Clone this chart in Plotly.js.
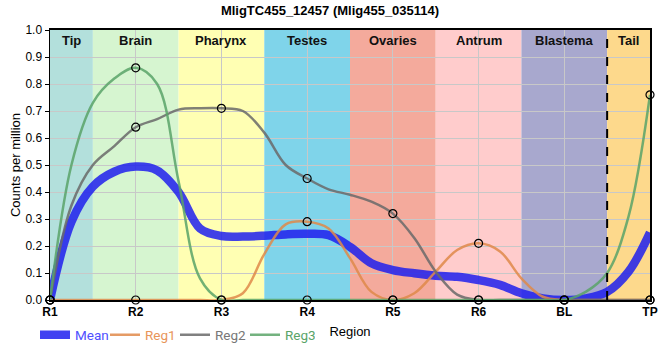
<!DOCTYPE html>
<html>
<head>
<meta charset="utf-8">
<script src="https://cdn.plot.ly/plotly-3.0.1.min.js"></script>
<style>html,body{margin:0;padding:0;background:#fff}#chart{width:660px;height:360px}</style>
</head>
<body>
<div id="chart"></div>
<script>
// Category tick labels and region bands
const regions = ["R1", "R2", "R3", "R4", "R5", "R6", "BL", "TP"];
const bandNames = ["Tip", "Brain", "Pharynx", "Testes", "Ovaries", "Antrum", "Blastema", "Tail"];
const bandColors = ["#b3e0dc", "#d6f5d0", "#ffffb3", "#7fd4ea", "#f4aa9c", "#ffcccc", "#a8a8ce", "#fdd98c"];

// Measured values at each region (markers)
const reg1Pts = [0, 0, 0, 0.29, 0, 0.21, 0, 0];
const reg2Pts = [0, 0.64, 0.71, 0.45, 0.32, 0, 0, 0];
const reg3Pts = [0, 0.86, 0, 0, 0, 0, 0, 0.76];

// Smoothed curves at quarter-region steps
const xCurve = [0,0.25,0.5,0.75,1,1.25,1.5,1.75,2,2.25,2.5,2.75,3,3.25,3.5,3.75,4,4.25,4.5,4.75,5,5.25,5.5,5.75,6,6.25,6.5,6.75,7];
const meanCurve = [0,0.29,0.42,0.475,0.494,0.48,0.40,0.265,0.237,0.235,0.238,0.243,0.245,0.24,0.197,0.136,0.111,0.099,0.09,0.086,0.074,0.056,0.025,0.006,0,0.006,0.03,0.105,0.25];
const reg1Curve = [0,0,0,0,0,0,0,0,0,0.025,0.17,0.28,0.29,0.265,0.155,0.03,0,0.025,0.105,0.185,0.21,0.18,0.08,0.012,0,0,0,0,0];
const reg2Curve = [0,0.35,0.50,0.57,0.64,0.67,0.705,0.71,0.71,0.70,0.62,0.50,0.45,0.41,0.39,0.364,0.32,0.23,0.105,0.02,0,0,0,0,0,0,0,0,0];
const reg3Curve = [0,0.50,0.73,0.82,0.86,0.80,0.44,0.08,0,0,0,0,0,0,0,0,0,0,0,0,0,0,0,0,0,0.03,0.10,0.31,0.76];

const xIdx = regions.map((_, i) => i);

const cMean = "#2020ee", cReg1 = "#e08a4a", cReg2 = "#6a6a6a", cReg3 = "#5aa469";

function lineTrace(y, name, color, width, textColor) {
  return {
    x: xCurve, y: y, type: "scatter", mode: "lines",
    name: "<span style='color:" + textColor + "'>" + name + "</span>",
    line: {color: color, width: width, shape: "spline"},
    opacity: 0.85, hoverinfo: "skip"
  };
}
function markerTrace(y) {
  return {
    x: xIdx, y: y, type: "scatter", mode: "markers", showlegend: false,
    marker: {symbol: "circle-open", size: 8, color: "#000", line: {width: 1.2, color: "#000"}},
    hoverinfo: "skip", cliponaxis: false
  };
}

const data = [
  lineTrace(meanCurve, "Mean", cMean, 8.5, "#5050ff"),
  lineTrace(reg1Curve, "Reg1", cReg1, 2.5, "#e8955a"),
  lineTrace(reg2Curve, "Reg2", cReg2, 2.5, "#777777"),
  lineTrace(reg3Curve, "Reg3", cReg3, 2.5, "#5aa469"),
  markerTrace(reg1Pts), markerTrace(reg2Pts), markerTrace(reg3Pts)
];

const shapes = bandNames.map((n, i) => ({
  type: "rect", xref: "x", yref: "paper",
  x0: Math.max(i - 0.5, 0), x1: Math.min(i + 0.5, regions.length - 1),
  y0: 0, y1: 1, fillcolor: bandColors[i], line: {width: 0}, layer: "below"
}));
shapes.push({type: "line", xref: "x", yref: "paper", x0: 6.5, x1: 6.5, y0: 0, y1: 1,
  line: {color: "#000", width: 2, dash: "dash"}});

const annotations = bandNames.map((n, i) => ({
  text: "<b>" + n + "</b>", xref: "x", yref: "paper",
  x: i === 0 ? 0.25 : (i === bandNames.length - 1 ? 6.75 : i), y: 1, yanchor: "top", yshift: -1,
  showarrow: false, font: {size: 13, color: "#111", family: "Liberation Sans, Arial, sans-serif"}
}));

const layout = {
  width: 660, height: 360,
  margin: {l: 50, r: 10, t: 30, b: 60, autoexpand: false},
  paper_bgcolor: "#fff", plot_bgcolor: "#fff",
  font: {family: "Liberation Sans, Arial, sans-serif", size: 12, color: "#000"},
  title: {text: "<b>MligTC455_12457 (Mlig455_035114)</b>", x: 0.5, xanchor: "center", y: 0.985, yanchor: "top",
          font: {size: 13, color: "#000"}},
  xaxis: {
    range: [0, 7], tickvals: xIdx, ticktext: regions.map(r => "<b>" + r + "</b>"),
    showgrid: true, gridcolor: "#c8c8c8", gridwidth: 1, zeroline: false, automargin: false,
    showline: true, linecolor: "#000", linewidth: 2, mirror: true, ticks: "",
    tickfont: {size: 12, color: "#000"},
    title: {text: "Region", font: {size: 13, color: "#000"}, standoff: 8}
  },
  yaxis: {
    range: [0, 1], dtick: 0.1, tickformat: ".1f", automargin: false,
    showgrid: true, gridcolor: "#c8c8c8", gridwidth: 1, zeroline: false,
    showline: true, linecolor: "#000", linewidth: 1.5, mirror: true,
    ticks: "outside", ticklen: 4, tickcolor: "#000",
    tickfont: {size: 12, color: "#000"},
    title: {text: "Counts per million", font: {size: 13, color: "#000"}, standoff: 2}
  },
  legend: {orientation: "h", x: -0.025, xanchor: "left", y: -0.072, yanchor: "top",
           font: {size: 13.5, family: "Roboto, sans-serif"}, itemwidth: 30, entrywidth: 25,
           tracegroupgap: 0, bgcolor: "rgba(0,0,0,0)"},
  shapes: shapes, annotations: annotations, showlegend: true
};

Plotly.newPlot("chart", data, layout, {displayModeBar: false, staticPlot: true});
</script>
</body>
</html>
